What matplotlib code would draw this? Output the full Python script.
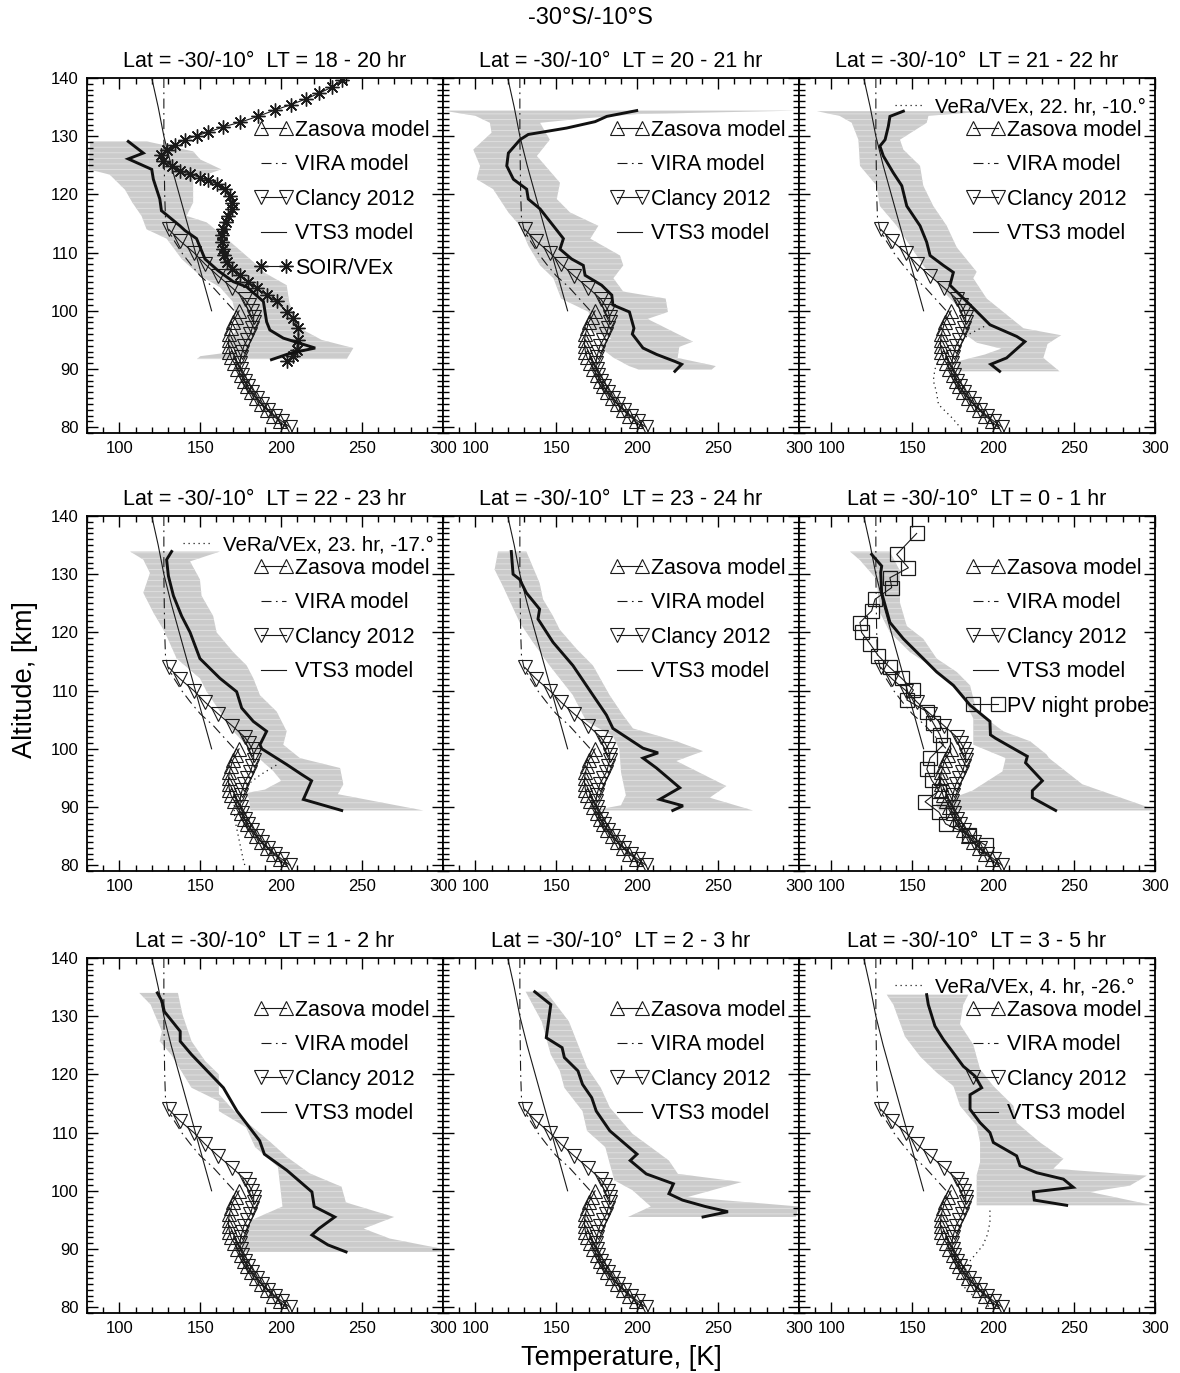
import numpy as np
import matplotlib
matplotlib.use('Agg')
import matplotlib.pyplot as plt
from matplotlib.ticker import MultipleLocator

plt.rcParams['font.family'] = ['Liberation Sans', 'DejaVu Sans']
plt.rcParams['hatch.linewidth'] = 0.6

# ---------------- common model profiles ----------------
zasova_alt = [100, 99, 98, 97, 96, 95, 94, 93, 92, 91, 90, 89, 88, 87, 86, 85, 84, 83, 82, 81, 80]
zasova_T = [174, 172, 170, 169, 168, 167.5, 167.5, 168, 169, 171, 173, 175, 177, 179, 181.5, 184.5, 187.5, 191, 195, 199, 203]

clancy_alt = [114, 112, 110, 108, 106, 104, 102, 101, 100, 99, 98, 97, 96, 95, 94, 93, 92, 91, 90,
              89, 88, 87, 86, 85, 84, 83, 82, 81, 80]
clancy_T = [130.5, 137.5, 146, 153, 161, 169.5, 177.5, 180, 182, 183, 183, 182, 181, 179, 177, 176, 175, 174.5, 175,
            176, 177.5, 179.5, 182, 185, 188, 192, 196, 200.5, 205.5]

vira_alt = [140, 130, 120, 116, 114, 112, 110, 108, 106, 104, 102, 100]
vira_T = [127.5, 127.5, 128, 128.5, 130, 134, 138.5, 144, 150, 158, 164.5, 171]

vts3_alt = [140, 135, 130, 125, 120, 115, 110, 105, 100]
vts3_T = [120, 124, 127.5, 132, 137, 142, 147, 152, 157]

# ---------------- panel titles ----------------
lt_labels = ["18 - 20", "20 - 21", "21 - 22", "22 - 23", "23 - 24", "0 - 1", "1 - 2", "2 - 3", "3 - 5"]

# ---------------- panel 1 : LT 18-20 ----------------
p1_alt = [129.1, 127.1, 126.1, 124.3, 122.6, 119.2, 117.2, 116.3, 114.6, 113.8, 112.4, 108.9, 106.9, 105.0,
          104.1, 101.6, 98.1, 96.7, 95.3, 93.6, 92.7, 91.6]
p1_T = [105.5, 114.8, 105.5, 120.0, 121.0, 125.0, 126.0, 130.0, 137.4, 140.5, 147.7, 152.9, 161.0, 170.4,
        178.7, 189.0, 191.0, 193.0, 201.3, 221.0, 205.5, 194.0]
p1_lo_alt = [129.1, 124.3, 123.4, 120.8, 118.6, 116.3, 114.0, 112.4, 108.9, 106.0, 104.1, 101.6, 99.0, 96.5,
             94.5, 93.0, 92.2, 91.7]
p1_lo_T = [82, 81, 94, 103.5, 108, 113.7, 116.8, 129.2, 138.5, 150, 162, 170, 172, 172, 166, 172, 150, 148]
p1_hi_alt = [129.1, 127.4, 126.0, 124.3, 122.6, 118.6, 116.3, 115.2, 112.4, 108.4, 106.5, 104.4, 101.5, 99.0,
             97.0, 95.0, 93.6, 91.7]
p1_hi_T = [117, 145.6, 150, 163, 145.6, 145.6, 141.5, 153.9, 166.3, 182.8, 190, 203.4, 205, 208, 211.6, 225,
           244.6, 240.5]
soir_alt = [139.7, 138.4, 137.4, 136.4, 135.4, 134.5, 133.4, 132.4, 131.6, 130.7, 130.1, 129.4, 128.5, 127.7,
            126.8, 125.7, 124.9, 124.0, 123.5, 122.9, 122.4, 121.8, 120.9, 119.8, 118.6, 117.5, 116.3, 115.2,
            114.1, 113.0, 111.8, 110.7, 109.6, 108.4, 107.2, 106.1, 105.0, 103.9, 102.7, 101.6, 99.8, 98.7,
            97.0, 95.0, 93.3, 92.2, 91.3]
soir_T = [237.4, 231.2, 223.5, 215.3, 205.8, 196.2, 185.5, 174.6, 164.2, 155.0, 148.0, 140.5, 134.4, 129.2,
          126.0, 127.0, 132.3, 137.4, 143.7, 149.9, 155.0, 160.2, 165.3, 168.4, 169.4, 169.4, 167.3, 165.9,
          164.2, 163.2, 163.2, 164.0, 164.8, 166.3, 169.4, 174.6, 179.7, 184.8, 191.0, 197.2, 203.4, 207.5,
          210.6, 210.6, 209.5, 207.5, 203.4]

# ---------------- panel 2 : LT 20-21 ----------------
p2_alt = [134.4, 133.4, 132.5, 131.4, 130.3, 129.4, 127.1, 124.9, 122.6, 120.9, 119.2, 117.5, 114.6, 112.4,
          110.6, 108.9, 107.8, 106.1, 104.4, 102.7, 101.0, 99.8, 97.0, 96.0, 93.6, 92.5, 91.3, 90.8, 89.6]
p2_T = [199.7, 181.2, 174.0, 156.4, 132.7, 127.6, 120.4, 119.4, 123.5, 131.7, 132.7, 140.0, 148.2, 154.4,
        152.3, 159.5, 166.7, 167.8, 178.0, 184.3, 185.0, 195.2, 198.0, 197.0, 203.6, 212.0, 223.3, 227.5, 223.3]
p2_lo_alt = [134.4, 133.5, 132.3, 130.6, 127.7, 124.9, 122.6, 120.9, 116.9, 114.6, 111.2, 107.8, 105.6, 102.1,
             99.8, 96.5, 95.3, 94.0, 92.0, 90.5, 89.9]
p2_lo_T = [80, 100, 109, 110, 98.7, 102.9, 100.8, 111, 120.4, 127.6, 132.7, 140, 148.2, 153, 170, 172, 184,
           176, 185, 195, 201]
p2_hi_alt = [134.4, 133.8, 133.0, 132.3, 129.4, 126.6, 122.0, 119.2, 116.9, 114.6, 112.4, 109.5, 107.8, 105.6,
             103.3, 102.1, 99.8, 98.6, 94.7, 93.8, 91.9, 90.5, 89.9]
p2_hi_T = [300, 200, 165, 140, 146, 138, 152.3, 150.3, 158.5, 176, 171, 189.4, 191.4, 185.3, 191.4, 217.6,
           219, 206.4, 234.5, 226, 225, 248.6, 246]

# ---------------- panel 3 : LT 21-22 ----------------
p3_alt = [134.3, 133.4, 131.7, 129.4, 128.3, 126.6, 123.7, 121.5, 118.0, 114.6, 111.8, 109.5, 107.8, 106.6,
          104.4, 101.6, 97.6, 95.6, 94.7, 91.9, 90.8, 89.6]
p3_T = [144.5, 136.2, 135.2, 133.2, 130.0, 132.1, 138.3, 143.5, 146.6, 154.8, 158.9, 161.0, 169.2, 175.4,
        173.3, 183.6, 198.0, 214.5, 219.6, 208.3, 198.5, 204.0]
p3_lo_alt = [134.3, 133.5, 132.3, 129.4, 124.9, 121.5, 118.0, 114.6, 111.2, 107.8, 102.7, 98.6, 96.5, 94.5,
             93.5, 92.5, 91.3, 89.6]
p3_lo_T = [91, 105, 112.6, 116.7, 117.7, 128, 130, 140.4, 148.6, 156.8, 171.3, 185.7, 180, 190, 205, 195, 178, 178]
p3_hi_alt = [134.3, 133.5, 132.3, 129.4, 127.7, 124.9, 121.5, 118.0, 114.6, 110.9, 106.7, 105.6, 102.1, 97.0,
             95.8, 94.3, 91.9, 89.6]
p3_hi_T = [198, 160, 158.9, 142.4, 144.5, 154.8, 156.8, 163, 171.3, 177.5, 189.8, 187.7, 196, 218.7, 242,
           233.6, 231, 241]
vera3_alt = [97.3, 96.1, 94.0, 92.0, 90.0, 88.0, 86.2, 83.9, 81.6, 80.2]
vera3_T = [194.4, 185.9, 176, 168, 164, 163, 164.8, 166.2, 174.6, 178.9]

# ---------------- panel 4 : LT 22-23 ----------------
p4_alt = [133.9, 132.5, 129.7, 126.3, 122.8, 120.0, 115.5, 112.1, 109.8, 107.0, 104.7, 103.0, 100.7, 100.0,
          97.3, 95.6, 94.5, 91.3, 89.4]
p4_T = [132.3, 129.2, 130.3, 133.4, 138.5, 143.7, 149.8, 162.2, 172.5, 175.6, 182.8, 191.0, 186.9, 188.0,
        203.4, 212.6, 218.8, 213.7, 237.4]
p4_lo_alt = [133.9, 132.5, 130.2, 126.8, 123.4, 120.0, 115.5, 112.1, 109.8, 103.0, 98.2, 96.2, 94.5, 93.0,
             92.3, 91.5, 89.4]
p4_lo_T = [106.6, 114.8, 118.9, 114.8, 121, 128.2, 135.4, 149.8, 154, 170.4, 186.9, 195, 200, 190, 177, 180, 181]
p4_hi_alt = [133.9, 132.2, 129.1, 126.3, 122.8, 120.0, 116.6, 114.3, 112.1, 109.2, 106.4, 103.0, 100.7, 98.4,
             96.7, 93.9, 92.2, 89.4]
p4_hi_T = [162.2, 143.7, 149.8, 150.8, 158, 160.1, 170.4, 178.7, 182.8, 186.9, 197.2, 203.4, 201.3, 211.6,
           236.4, 238.4, 235, 287.9]
vera4_alt = [97.2, 95.5, 94.0, 92.5, 91.0, 89.0, 87.0, 85.0, 83.0, 81.0, 80.0]
vera4_T = [197, 187, 180, 174, 171, 171, 172, 173.5, 175, 176.5, 177.5]

# ---------------- panel 5 : LT 23-24 ----------------
p5_alt = [133.9, 130.0, 129.1, 126.8, 124.0, 122.3, 118.3, 114.3, 109.2, 105.8, 103.5, 100.1, 99.3, 98.4,
          96.7, 93.3, 91.3, 90.2, 89.4]
p5_T = [122.2, 123.3, 127.4, 131.5, 139.7, 138.7, 148.0, 160.3, 172.7, 181.0, 185.0, 203.6, 212.9, 203.6,
        211.9, 226.3, 213.9, 228.3, 222.0]
p5_lo_alt = [133.9, 130.8, 127.9, 121.7, 118.3, 114.3, 109.2, 104.7, 102.2, 99.9, 96.0, 92.0, 90.3, 89.6, 89.4]
p5_lo_T = [114, 111.9, 117.1, 127.4, 135.6, 145.9, 160.3, 168.6, 185, 189, 190, 193, 190, 176.8, 176.8]
p5_hi_alt = [133.9, 128.5, 125.7, 122.8, 120.5, 117.2, 114.3, 109.2, 105.8, 103.5, 101.3, 99.6, 97.9, 93.6,
             91.6, 89.4]
p5_hi_T = [131.5, 139.7, 141.8, 148, 152.1, 162.4, 172.7, 183, 191.2, 197.4, 224.2, 240.7, 224.2, 255.1,
           244.8, 271.6]

# ---------------- panel 6 : LT 0-1 ----------------
p6_alt = [133.4, 131.4, 130.3, 126.8, 121.7, 118.9, 115.5, 113.2, 110.9, 107.5, 104.7, 102.4, 101.8, 100.7,
          98.7, 97.6, 94.5, 92.8, 91.6, 89.4]
p6_T = [124.9, 131.1, 130.5, 131.1, 136.2, 144.5, 156.8, 165.1, 175.4, 185.7, 198.0, 198.3, 201.5, 208.4,
        221.1, 220.0, 230.4, 224.2, 224.2, 238.6]
p6_lo_alt = [133.9, 132.4, 129.1, 123.4, 120.0, 116.6, 114.3, 112.1, 108.7, 105.2, 100.7, 98.4, 96.1, 92.8,
             90.5, 89.4]
p6_lo_T = [111.5, 117.7, 128, 130, 136.2, 148.6, 161, 171.3, 181.5, 187.7, 187.7, 207.7, 205.7, 187.1, 164.5, 166.5]
p6_hi_alt = [133.9, 130.6, 125.1, 121.1, 118.9, 115.5, 113.2, 110.9, 106.4, 103.0, 101.3, 99.0, 98.4, 93.9,
             89.7, 89.4]
p6_hi_T = [136, 142.4, 142.4, 146.6, 156.8, 165.1, 177.5, 185.7, 189.8, 206.3, 222.8, 233.1, 234.5, 255.1,
           298.4, 300]
pv_alt = [137, 133.4, 131.1, 129.4, 127.7, 125.7, 123.7, 121.7, 120, 118, 116, 114, 112.1, 110.1, 108.4,
          106.4, 104.4, 102.4, 100.7, 98.4, 96.5, 94.6, 92.8, 90.9, 89.1, 87.1, 85.2, 83.4]
pv_T = [152.7, 140.4, 147.6, 136.2, 137.3, 127, 124.9, 117.7, 118.7, 124, 129, 136, 143.5, 150.7, 146.6,
        159, 163, 167.1, 169.2, 161, 159, 162, 166.5, 157.9, 166.5, 170.6, 185, 195.4]

# ---------------- panel 7 : LT 1-2 ----------------
p7_alt = [134.0, 132.6, 130.8, 127.4, 125.7, 123.4, 117.7, 113.7, 108.6, 106.3, 103.5, 99.8, 97.3, 95.5,
          93.5, 92.4, 90.7, 89.5]
p7_T = [123.5, 126.3, 127.8, 137.6, 137.6, 144.6, 164.3, 172.7, 186.7, 189.6, 203.6, 219.0, 220.4, 233.1,
        223.3, 219.0, 228.9, 240.1]
p7_lo_alt = [134.0, 132.0, 127.4, 125.7, 123.4, 117.7, 115.4, 113.7, 110.9, 107.5, 104.1, 97.3, 94.9, 91.5, 89.5]
p7_lo_T = [112.3, 119.3, 126.3, 124.9, 132, 144.6, 161.5, 161.5, 178.3, 183.9, 198, 200.8, 181.1, 175.5, 175.5]
p7_hi_alt = [134.0, 130.3, 125.7, 122.3, 120.0, 116.6, 113.2, 108.6, 105.8, 103.0, 100.7, 98.0, 95.5, 93.5,
             91.8, 90.0, 89.5]
p7_hi_T = [136.2, 139, 144.6, 153, 161.5, 161.5, 172.7, 192.4, 203.6, 217.6, 237.3, 240, 269.8, 251, 267,
           300, 300]

# ---------------- panel 8 : LT 2-3 ----------------
p8_alt = [134.2, 132.0, 129.1, 126.3, 124.6, 122.9, 120.6, 118.3, 116.0, 113.7, 110.3, 106.3, 105.2, 102.9,
          101.2, 99.5, 98.4, 97.3, 96.4, 95.5]
p8_T = [136.7, 146.6, 145.2, 143.8, 153.6, 155.0, 163.4, 166.2, 171.9, 174.7, 183.1, 199.9, 195.7, 205.6,
        222.4, 219.6, 228.0, 242.1, 256.1, 240.7]
p8_lo_alt = [134.2, 129.1, 123.4, 120.6, 117.7, 113.7, 110.3, 107.5, 104.6, 101.8, 100.1, 97.3, 95.5]
p8_lo_T = [131.1, 141, 146.6, 152.2, 155, 166.2, 169, 180.3, 183.1, 185.9, 197.1, 208.4, 194.3]
p8_hi_alt = [134.2, 129.1, 121.2, 117.7, 114.3, 109.8, 107.5, 105.2, 102.9, 101.5, 98.9, 97.3, 95.5]
p8_hi_T = [143.8, 157.8, 169, 177.5, 183.1, 197.1, 208.4, 219.6, 225.2, 264.6, 230.8, 300, 298]

# ---------------- panel 9 : LT 3-5 ----------------
p9_alt = [133.7, 132.0, 128.3, 126.0, 123.7, 121.4, 119.7, 117.7, 116.5, 114.0, 111.7, 110.0, 108.3, 106.0,
          104.3, 103.1, 102.0, 100.6, 99.8, 98.4, 97.5]
p9_T = [158.9, 159.9, 164.0, 169.2, 175.4, 181.5, 188.8, 192.9, 185.7, 185.7, 191.9, 198.0, 200.1, 214.5,
        216.6, 226.9, 243.4, 249.5, 224.8, 225.4, 245.4]
p9_lo_alt = [133.7, 132.0, 126.5, 123.1, 120.3, 118.0, 114.6, 111.2, 108.3, 104.9, 102.7, 97.5]
p9_lo_T = [134.2, 138.3, 145.5, 154.8, 165.1, 175.4, 179.5, 189.8, 191.9, 191.9, 189.8, 189.8]
p9_hi_alt = [133.7, 132.0, 128.6, 125.1, 120.9, 118.0, 114.6, 111.7, 108.3, 105.5, 103.8, 102.6, 100.9, 99.8, 97.5]
p9_hi_T = [184.6, 181.5, 179.5, 187.7, 191.9, 200.1, 212.5, 214.5, 229, 243.4, 237.2, 294.9, 284.6, 259.8, 299]
vera9_alt = [96.6, 94.6, 92.5, 90.6, 87.9, 85.0, 83.0, 81.5, 80.0]
vera9_T = [198, 198, 196.5, 193.6, 185.5, 180.4, 183, 190, 198]

panels = [
    (p1_alt, p1_T, p1_lo_alt, p1_lo_T, p1_hi_alt, p1_hi_T),
    (p2_alt, p2_T, p2_lo_alt, p2_lo_T, p2_hi_alt, p2_hi_T),
    (p3_alt, p3_T, p3_lo_alt, p3_lo_T, p3_hi_alt, p3_hi_T),
    (p4_alt, p4_T, p4_lo_alt, p4_lo_T, p4_hi_alt, p4_hi_T),
    (p5_alt, p5_T, p5_lo_alt, p5_lo_T, p5_hi_alt, p5_hi_T),
    (p6_alt, p6_T, p6_lo_alt, p6_lo_T, p6_hi_alt, p6_hi_T),
    (p7_alt, p7_T, p7_lo_alt, p7_lo_T, p7_hi_alt, p7_hi_T),
    (p8_alt, p8_T, p8_lo_alt, p8_lo_T, p8_hi_alt, p8_hi_T),
    (p9_alt, p9_T, p9_lo_alt, p9_lo_T, p9_hi_alt, p9_hi_T),
]
vera = {2: (vera3_alt, vera3_T, "VeRa/VEx, 22. hr, -10.°"),
        3: (vera4_alt, vera4_T, "VeRa/VEx, 23. hr, -17.°"),
        8: (vera9_alt, vera9_T, "VeRa/VEx, 4. hr, -26.°")}

W, H = 1180, 1373
fig = plt.figure(figsize=(W / 100, H / 100), dpi=100)
col_left = [87, 443, 799]
row_top = [78, 516, 958]
aw, ah = 356, 355

LEG_FS = 15.5
ink = '#1a1a1a'

for i, (alt, T, la, lt, ha, htv) in enumerate(panels):
    r, c = divmod(i, 3)
    ax = fig.add_axes([col_left[c] / W, 1 - (row_top[r] + ah) / H, aw / W, ah / H])
    ax.set_xlim(80, 300)
    ax.set_ylim(79, 140)

    # variability band
    bx = np.concatenate([np.array(lt), np.array(htv)[::-1]])
    by = np.concatenate([np.array(la), np.array(ha)[::-1]])
    ax.fill(bx, by, facecolor='#cbcbcb', edgecolor='#e2e2e2', hatch='---', lw=0, zorder=1)

    h_vts3, = ax.plot(vts3_T, vts3_alt, color=ink, lw=0.8, zorder=3, label='VTS3 model')
    h_vira, = ax.plot(vira_T, vira_alt, color=ink, lw=0.8, ls=(0, (9, 4, 1.5, 4)), zorder=3,
                      label='VIRA model')
    h_zas, = ax.plot(zasova_T, zasova_alt, color=ink, lw=0.8, marker='^', ms=9.5, mfc='none',
                     mec=ink, mew=0.8, zorder=4, label='Zasova model')
    h_cl, = ax.plot(clancy_T, clancy_alt, color=ink, lw=0.8, marker='v', ms=9.5, mfc='none',
                    mec=ink, mew=0.8, zorder=4, label='Clancy 2012')
    extra = []
    if i == 0:
        h_s, = ax.plot(soir_T, soir_alt, color=ink, lw=0.8, marker=(8, 2, 0), ms=10, mew=1.0,
                       mec=ink, zorder=5, label='SOIR/VEx')
        extra.append(h_s)
    if i == 5:
        h_pv, = ax.plot(pv_T, pv_alt, color=ink, lw=0.8, marker='s', ms=10, mfc='none', mec=ink,
                        mew=0.9, zorder=5, label='PV night probe')
        extra.append(h_pv)
    h_vera = None
    if i in vera:
        va, vt, vl = vera[i]
        h_vera, = ax.plot(vt, va, color=ink, lw=0.9, ls=(0, (1, 3)), zorder=3, label=vl)

    ax.plot(T, alt, color='#111111', lw=2.1, zorder=6, solid_joinstyle='miter')

    # legends
    handles = [h_zas, h_vira, h_cl, h_vts3] + extra
    leg = ax.legend(handles=handles, loc='upper left', bbox_to_anchor=(0.47, 0.883),
                    frameon=False, fontsize=LEG_FS, handlelength=1.75, handletextpad=0.15,
                    labelspacing=0.63, numpoints=2, borderpad=0, borderaxespad=0)
    if h_vera is not None:
        ax.add_artist(leg)
        ax.legend(handles=[h_vera], loc='upper left', bbox_to_anchor=(0.27, 0.946),
                  frameon=False, fontsize=14.8, handlelength=1.4, handletextpad=0.55,
                  borderpad=0, borderaxespad=0)

    ax.set_title(f"Lat = -30/-10°  LT = {lt_labels[i]} hr", fontsize=15.5, pad=8)

    ax.xaxis.set_major_locator(MultipleLocator(50))
    ax.xaxis.set_minor_locator(MultipleLocator(10))
    ax.yaxis.set_major_locator(MultipleLocator(10))
    ax.yaxis.set_minor_locator(MultipleLocator(1))
    ax.tick_params(which='both', direction='in', top=True, right=True, labelsize=12, width=1.0)
    ax.tick_params(which='major', length=8, pad=6)
    ax.tick_params(which='minor', length=4)
    if c != 0:
        ax.tick_params(labelleft=False)
    for s in ax.spines.values():
        s.set_linewidth(1.3)

fig.text(0.5, 1 - 18 / H, "-30°S/-10°S", ha='center', va='center', fontsize=17)
fig.text(25 / W, 1 - 680 / H, "Altitude, [km]", ha='center', va='center', rotation=90, fontsize=19.5)
fig.text(621 / W, 1 - 1358 / H, "Temperature, [K]", ha='center', va='center', fontsize=19.5)

fig.savefig('out.png', dpi=100)
